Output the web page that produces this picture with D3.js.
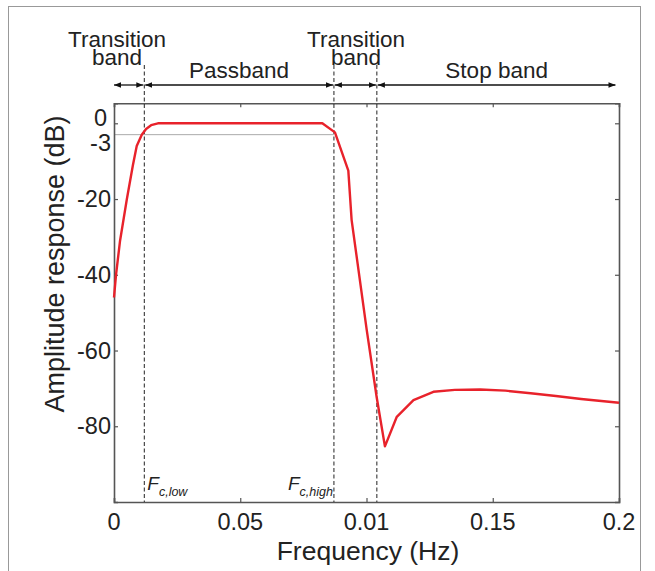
<!DOCTYPE html>
<html><head><meta charset="utf-8">
<script src="https://cdn.jsdelivr.net/npm/d3@7"></script>
<style>body{margin:0;background:#fff;} text{font-family:"Liberation Sans",Arial,sans-serif;fill:#222;}</style>
</head><body><svg id="c" width="655" height="571"></svg>
<script>
// ---- data ----
const freq = [0, 0.0008, 0.0024, 0.0051, 0.0075, 0.009, 0.011, 0.0127, 0.0147, 0.0174, 0.0825, 0.0875, 0.0928, 0.0941, 0.1001, 0.1040, 0.1073, 0.112, 0.1186, 0.1265, 0.135, 0.145, 0.155, 0.165, 0.175, 0.185, 0.2];
const amp  = [-46, -40, -31, -20, -11, -6, -3, -1.5, -0.5, 0, 0, -2.4, -12.5, -25.5, -54.6, -72.2, -85.3, -77.5, -73.1, -70.9, -70.4, -70.3, -70.6, -71.3, -72, -72.8, -73.8];
const xTicks = [0, 0.05, 0.1, 0.15, 0.2];
const xTickLabels = ["0", "0.05", "0.01", "0.15", "0.2"];
const yTicks = [0, -3, -20, -40, -60, -80];
const yTickLabels = ["0", "-3", "-20", "-40", "-60", "-80"];
const cutoffs = [0.012, 0.0871, 0.1041];
const bandEdges = [0, 0.012, 0.0871, 0.1041, 0.199];
const bandLabels = [["Transition", "band"], ["Passband"], ["Transition", "band"], ["Stop band"]];
const halfPower = -3;

const svg = d3.select("#c");
const x = d3.scaleLinear().domain([0, 0.2]).range([114, 619]);
const y = d3.scaleLinear().domain([-100, 5.28]).range([502, 103.3]);

// outer figure border
svg.append("rect").attr("x", 8.5).attr("y", 6.5).attr("width", 632).attr("height", 580)
  .attr("fill", "none").attr("stroke", "#999").attr("stroke-width", 1);

// arrowheads
const defs = svg.append("defs");
defs.append("marker").attr("id", "ah").attr("viewBox", "0 0 10 10").attr("refX", 10).attr("refY", 5)
  .attr("markerWidth", 7).attr("markerHeight", 7).attr("orient", "auto-start-reverse")
  .attr("markerUnits", "userSpaceOnUse")
  .append("path").attr("d", "M0,1 L10,5 L0,9 z").attr("fill", "#111");

// -3 dB guide line
svg.append("line").attr("x1", x(0)).attr("x2", x(cutoffs[1])).attr("y1", y(halfPower)).attr("y2", y(halfPower))
  .attr("stroke", "#aaa").attr("stroke-width", 1);

// axes box with inward ticks
const g = svg.append("g");
const axBottom = d3.axisBottom(x).tickValues(xTicks).tickSize(-4).tickFormat(() => "");
const axTop = d3.axisTop(x).tickValues(xTicks).tickSize(-4).tickFormat(() => "");
const axLeft = d3.axisLeft(y).tickValues(yTicks.filter(v => v !== -3)).tickSize(-4).tickFormat(() => "");
const axRight = d3.axisRight(y).tickValues(yTicks.filter(v => v !== -3)).tickSize(-4).tickFormat(() => "");
[[axBottom, `translate(0,${y(-100)})`], [axTop, `translate(0,${y(5.28)})`], [axLeft, `translate(${x(0)},0)`], [axRight, `translate(${x(0.2)},0)`]]
  .forEach(([ax, tr]) => {
    const a = g.append("g").attr("transform", tr).call(ax);
    a.select(".domain").attr("stroke", "#555").attr("stroke-width", 1.6);
    a.selectAll(".tick line").attr("stroke", "#555").attr("stroke-width", 1.2);
  });

// tick labels
svg.append("g").selectAll("text").data(xTicks).join("text")
  .attr("x", d => x(d)).attr("y", 530).attr("text-anchor", "middle")
  .attr("font-size", 23.5).text((d, i) => xTickLabels[i]);
const yOff = {"0": -5, "-3": 8};
svg.append("g").selectAll("text").data(yTicks).join("text")
  .attr("x", d => d === 0 ? 107 : 111).attr("y", d => y(d) + 8 + (yOff[String(d)] || 0)).attr("text-anchor", "end")
  .attr("font-size", 23.5).text((d, i) => yTickLabels[i]);

// dashed cutoff lines
svg.append("g").selectAll("line").data(cutoffs).join("line")
  .attr("x1", d => x(d)).attr("x2", d => x(d)).attr("y1", 65).attr("y2", y(-100))
  .attr("stroke", "#222").attr("stroke-width", 1).attr("stroke-dasharray", "4,2.5");

// response curve
const pts = freq.map((f, i) => [f, amp[i]]);
svg.append("path").datum(pts)
  .attr("d", d3.line().x(d => x(d[0])).y(d => y(d[1])))
  .attr("fill", "none").attr("stroke", "#e8222b").attr("stroke-width", 2.4).attr("stroke-linejoin", "round");

// band arrows and labels
const arrowY = 85;
const labelCx = [117, null, 356, null];
for (let i = 0; i < bandLabels.length; i++) {
  const a = x(bandEdges[i]) + (i === 0 ? 0 : 1), b = x(bandEdges[i + 1]) - 1;
  svg.append("line").attr("x1", a).attr("x2", b).attr("y1", arrowY).attr("y2", arrowY)
    .attr("stroke", "#111").attr("stroke-width", 1.3)
    .attr("marker-start", "url(#ah)").attr("marker-end", "url(#ah)");
  const cx = labelCx[i] !== null ? labelCx[i] : (x(bandEdges[i]) + x(bandEdges[i + 1])) / 2;
  const lines = bandLabels[i];
  if (lines.length === 2) {
    svg.append("text").attr("text-anchor", "middle").attr("font-size", 22.5)
      .attr("x", cx).attr("y", 47).text(lines[0]);
    svg.append("text").attr("text-anchor", "middle").attr("font-size", 22.5)
      .attr("x", cx).attr("y", 65).text(lines[1]);
  } else {
    svg.append("text").attr("text-anchor", "middle").attr("font-size", 22.5)
      .attr("x", cx).attr("y", 78).text(lines[0]);
  }
}

// Fc labels
const fl = svg.append("text").attr("x", x(cutoffs[0]) + 3).attr("y", 490).attr("font-style", "italic").attr("font-size", 19);
fl.append("tspan").text("F");
fl.append("tspan").attr("font-size", 12.5).attr("dy", 6).text("c,low");
const fh = svg.append("text").attr("x", x(cutoffs[1]) - 1).attr("y", 490).attr("text-anchor", "end").attr("font-style", "italic").attr("font-size", 19);
fh.append("tspan").text("F");
fh.append("tspan").attr("font-size", 12.5).attr("dy", 6).text("c,high");

// axis titles
svg.append("text").attr("x", 368).attr("y", 560).attr("text-anchor", "middle").attr("font-size", 26.5).text("Frequency (Hz)");
svg.append("text").attr("transform", "translate(64,264) rotate(-90)").attr("text-anchor", "middle").attr("font-size", 27).text("Amplitude response (dB)");
</script></body></html>
